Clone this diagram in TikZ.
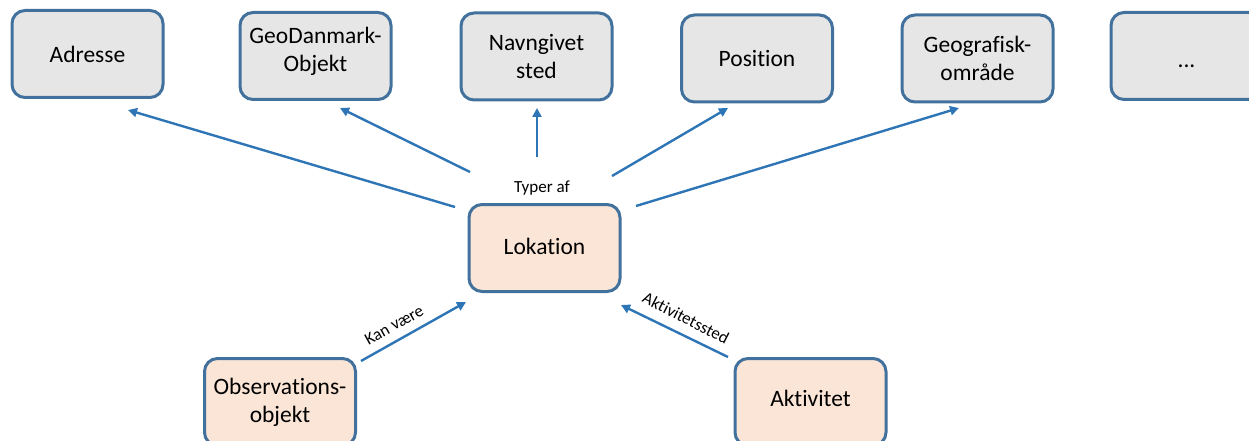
\documentclass[tikz,border=0pt]{standalone}
\usepackage{fontspec}
\setmainfont{Carlito}[Ligatures=NoCommon]
\usetikzlibrary{arrows.meta}
\definecolor{boxline}{HTML}{41719C}
\definecolor{typefill}{HTML}{E7E6E6}
\definecolor{corefill}{HTML}{FBE5D6}
\definecolor{linkblue}{HTML}{2E75B6}
\begin{document}
\begin{tikzpicture}[x=1pt,y=-1pt,
  box/.style={draw=boxline, line width=3pt, rounded corners=13pt,
    minimum width=151pt, minimum height=87pt, align=center,
    font=\fontsize{23.5}{28}\selectfont, inner sep=0pt},
  typebox/.style={box, fill=typefill},
  corebox/.style={box, fill=corefill},
  boxtext/.style={align=center, font=\fontsize{23.5}{28}\selectfont, inner sep=0pt},
  link/.style={draw=linkblue, line width=2.4pt,
    -{Triangle[length=9pt,width=9pt]}},
  lbl/.style={font=\fontsize{17}{20}\selectfont, inner sep=0pt}]
\useasboundingbox (0,0) rectangle (1249,441);

% type boxes along the top
\node[typebox] (adresse)  at (87.5,54)   {Adresse};
\node[typebox] (geodk)    at (315.5,56)  {};
\node[boxtext] (geodktxt) at (315.5,51.5){GeoDanmark-\\Objekt};
\node[typebox] (navn)     at (536.5,56.5){Navngivet\\sted};
\node[typebox] (position) at (757,58.5)  {Position};
\node[typebox] (geoomr)   at (977.5,58.5){Geografisk-\\område};
\node[typebox] (more)     at (1186.5,56) {};
\node[boxtext] (moretxt)  at (1186.5,66) {...};

% central concept and its sources
\node[corebox] (lokation) at (544.5,248) {};
\node[boxtext] (loktxt)   at (544.5,246) {Lokation};
\node[corebox] (obs)      at (280,402)   {Observations-\\objekt};
\node[corebox] (akt)      at (810.5,402) {};
\node[boxtext] (akttxt)   at (810.5,398) {Aktivitet};

% free ends of the connectors
\coordinate (s1) at (455,207);  \coordinate (e1) at (128,110);
\coordinate (s2) at (470,172);  \coordinate (e2) at (340,108);
\coordinate (s3) at (537,157);  \coordinate (e3) at (537,108);
\coordinate (s4) at (612,176);  \coordinate (e4) at (728,108);
\coordinate (s5) at (636,206);  \coordinate (e5) at (959,108);
\coordinate (s6) at (361,361);  \coordinate (e6) at (466,302);
\coordinate (s7) at (728,357);  \coordinate (e7) at (621,305);

\draw[link] (s1) -- (e1);
\draw[link] (s2) -- (e2);
\draw[link] (s3) -- (e3);
\draw[link] (s4) -- (e4);
\draw[link] (s5) -- (e5);
\draw[link] (s6) -- (e6);
\draw[link] (s7) -- (e7);

\node[lbl] (typer) at (542,188) {Typer af};
\node[lbl, rotate=29] (kan) at (394,325) {Kan være};
\node[lbl, rotate=-27] (stedlbl) at (686,318) {Aktivitetssted};
\end{tikzpicture}
\end{document}
